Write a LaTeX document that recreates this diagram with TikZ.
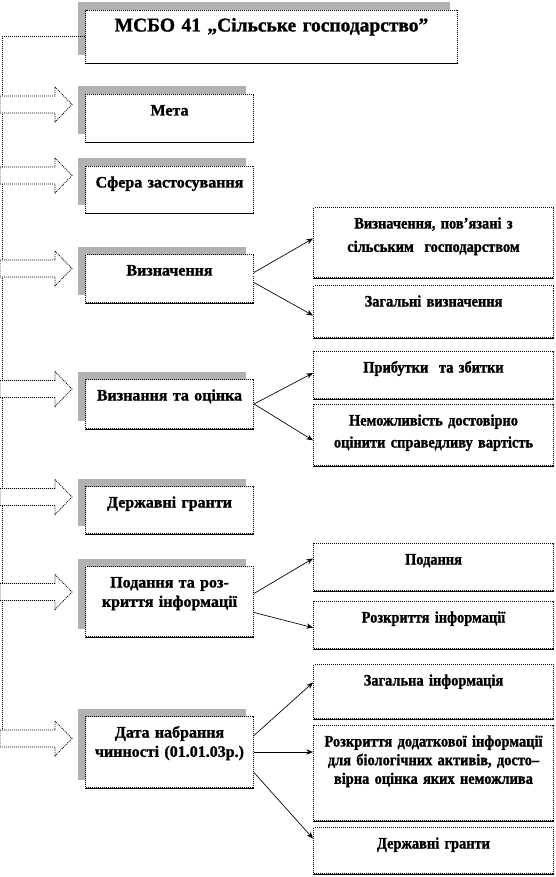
\documentclass[tikz,border=0pt]{standalone}
\usepackage{fontspec}
\setmainfont{Liberation Serif}[BoldFeatures={FakeBold=1.2}]
\newfontfamily\narrowserif{Liberation Serif}[FakeStretch=0.9, BoldFeatures={FakeBold=1.2}]
\usetikzlibrary{arrows.meta,shadows}

\tikzset{
  edgebox/.style={draw, line width=0.75pt, dash pattern=on 0.75pt off 0.75pt,
    fill=white, inner xsep=4pt, inner ysep=0pt, align=center, anchor=north west,
    text height=15.75pt, font=\fontsize{12}{14.5}\selectfont\bfseries},
  shaded/.style={general shadow={fill=black!30, shadow xshift=-6pt, shadow yshift=6pt}},
  lbox/.style={edgebox, shaded, text width=118pt},
  rbox/.style={edgebox, inner xsep=2pt, text width=176pt,
    font=\narrowserif\fontsize{12}{14.5}\selectfont\bfseries},
  link/.style={line width=0.5pt, -{Stealth[length=5pt,width=4pt]}},
  bigarrow/.style={draw, fill=white, line width=0.6pt, dash pattern=on 0.75pt off 0.75pt},
}

\begin{document}
\begin{tikzpicture}[x=0.75pt,y=-0.75pt]
  \useasboundingbox (0,0) rectangle (556,877);

  % title and the rail on the left
  \node[edgebox, shaded, text width=271pt, text depth=24pt,
    font=\fontsize{14.6}{17}\selectfont\bfseries] (msbo) at (85,10) {МСБО 41 „Сільське господарство”};
  \coordinate (rail) at (2,747);
  \draw[line width=0.75pt, dash pattern=on 0.75pt off 0.75pt] (msbo.west) -| (rail);

  % block arrows
  \foreach \yc in {104.5,175.5,268.5,389,497,592,738.5}
    \draw[bigarrow] (0,\yc-8.5) -- (55,\yc-8.5) -- (55,\yc-17.5) -- (72,\yc)
      -- (55,\yc+17.5) -- (55,\yc+8.5) -- (0,\yc+8.5) -- cycle;

  % left column
  \node[lbox, text depth=20.25pt] (meta) at (85,94) {Мета};
  \node[lbox, text depth=19.5pt] (sfera) at (85,166) {Сфера застосування};
  \node[lbox, text depth=20.25pt] (vyzn) at (85,254) {Визначення};
  \node[lbox, text depth=21pt] (vyznan) at (85,379) {Визнання та оцінка};
  \node[lbox, text depth=19.5pt] (granty) at (85,486) {Державні гранти};
  \node[lbox, text depth=36.75pt] (podan) at (85,566) {Подання та роз-\\криття інформації};
  \node[lbox, text depth=37.5pt] (data) at (85,716) {Дата набрання\\чинності (01.01.03р.)};

  % right column
  \node[rbox, text depth=36.75pt] (pov) at (313,207) {Визначення, пов’язані з\\[3pt]сільським~ господарством};
  \node[rbox, text depth=23.25pt] (zag) at (313,285) {Загальні визначення};
  \node[rbox, text depth=19.5pt] (prib) at (313,351) {Прибутки~ та збитки};
  \node[rbox, text depth=30pt] (nemozh) at (313,404) {Неможливість достовірно\\[2pt]оцінити справедливу вартість};
  \node[rbox, text depth=19.5pt] (podr) at (313,543) {Подання};
  \node[rbox, text depth=19.5pt] (rozkr) at (313,601) {Розкриття інформації};
  \node[rbox, text depth=24.75pt] (zaginf) at (313,664) {Загальна інформація};
  \node[rbox, text depth=55.5pt,
    font=\narrowserif\fontsize{12}{14}\selectfont\bfseries] (dodat) at (313,725) {Розкриття додаткової інформації\\для біологічних активів, досто–\\вірна оцінка яких неможлива};
  \node[rbox, text depth=18.75pt] (granr) at (313,827) {Державні гранти};

  % solid lower edges
  \foreach \n in {msbo,meta,sfera,vyzn,vyznan,granty,podan,data,pov,zag,prib,nemozh,podr,rozkr,zaginf,dodat,granr}
    \draw[line width=0.75pt] (\n.south west) -- (\n.south east);

  % links
  \draw[link] ([yshift=4.5pt]vyzn.east) -- ([yshift=3pt]pov.west);
  \draw[link] ([yshift=-3pt]vyzn.east) -- ([yshift=-3pt]zag.west);
  \draw[link] (vyznan.east) -- ([yshift=1.5pt]prib.west);
  \draw[link] (vyznan.east) -- ([yshift=-4pt]nemozh.west);
  \draw[link] ([yshift=6pt]podan.east) -- ([yshift=6.4pt]podr.west);
  \draw[link] ([yshift=-8.25pt]podan.east) -- ([yshift=-2pt]rozkr.west);
  \draw[link] ([yshift=12.4pt]data.east) -- ([yshift=6.75pt]zaginf.west);
  \draw[link] (data.east) -- (data.east -| dodat.west);
  \draw[link] ([yshift=-15.4pt]data.east) -- ([yshift=9pt]granr.west);
\end{tikzpicture}
\end{document}
